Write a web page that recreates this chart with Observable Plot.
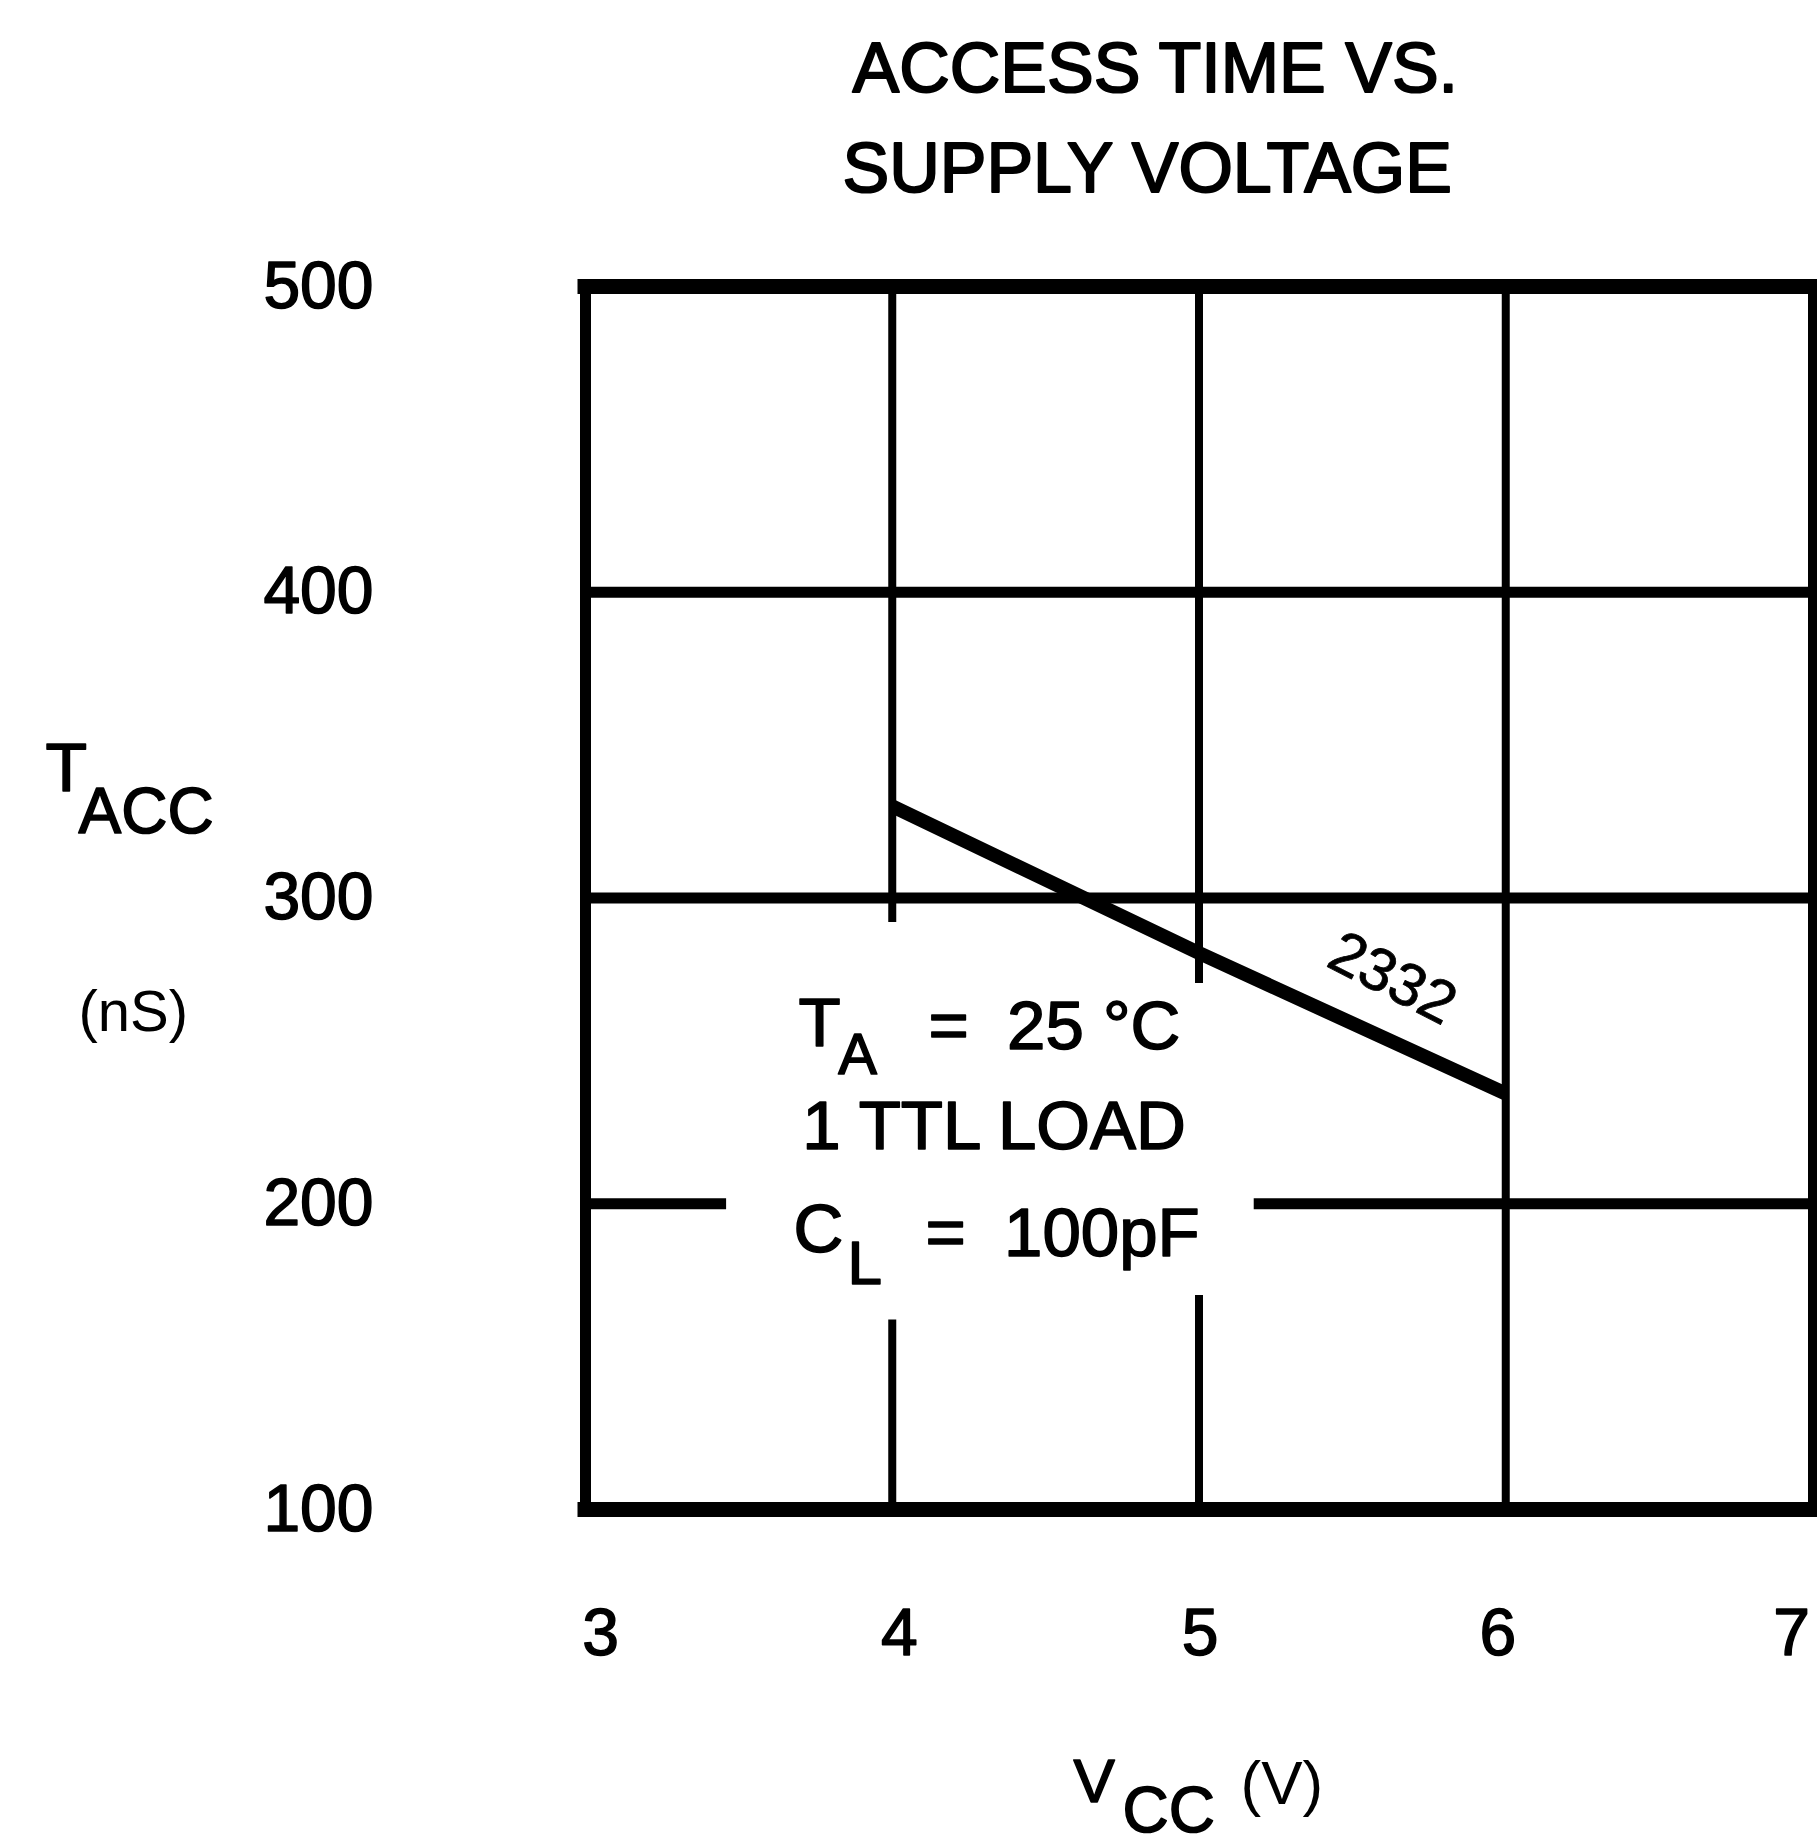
<!DOCTYPE html>
<html>
<head>
<meta charset="utf-8">
<script src="https://cdn.jsdelivr.net/npm/d3@7"></script>
<script src="https://cdn.jsdelivr.net/npm/@observablehq/plot@0.6"></script>
<style>
  html, body { margin: 0; padding: 0; background: #fff; }
</style>
</head>
<body>
<div id="chart"></div>
<script>
// ---- Data ----
const titleLines = ["ACCESS TIME VS.", "SUPPLY VOLTAGE"];
const xTicks = [3, 4, 5, 6, 7];          // VCC (V)
const yTicks = [100, 200, 300, 400, 500]; // TACC (nS)
const vcc  = [4, 5, 6];
const tacc = [330, 282, 236];
const seriesName = "2332";

// grid segments (data units), gaps where the annotation sits
const vGridX  = [4, 4, 5, 5, 6];
const vGridY1 = [292, 100, 272, 100, 100];
const vGridY2 = [500, 162, 500, 170, 500];
const hGridY  = [400, 300, 200, 200];
const hGridX1 = [3, 3, 3, 5.18];
const hGridX2 = [7, 7, 3.46, 7];

// annotation anchors (data units)
const noteText = ["T", "A", "=\u00a0\u00a025\u00a0°C", "1 TTL LOAD", "C", "L", "=\u00a0\u00a0100pF"];
const noteX    = [3.694, 3.824, 4.118, 3.707, 3.678, 3.854, 4.108];
const noteY    = [267.5, 256.0, 266.5, 233.8, 200.4, 188.0, 198.8];
const noteSize = [69, 58, 69, 69, 69, 62, 69];
const labelX = [5.631], labelY = [273.7];

// ---- build tables ----
const series = vcc.map((v, i) => ({vcc: v, tacc: tacc[i]}));
const vGrid = vGridX.map((x, i) => ({x, y1: vGridY1[i], y2: vGridY2[i]}));
const hGrid = hGridY.map((y, i) => ({y, x1: hGridX1[i], x2: hGridX2[i]}));
const notes = noteText.map((t, i) => ({t, x: noteX[i], y: noteY[i], s: noteSize[i]}));

const F = "'Liberation Sans', Arial, Helvetica, sans-serif";
const heavy = {stroke: "#000", strokeWidth: 1.6, paintOrder: "stroke", strokeLinejoin: "round"};

function label(txt, anchor, dx, dy, size, extra) {
  return Plot.text([txt], {
    text: d => d, frameAnchor: anchor, dx, dy,
    textAnchor: "start", lineAnchor: "top",
    fontSize: size, fontFamily: F, fill: "#000", ...(extra || {})
  });
}

const axisText = {textStroke: "#000", textStrokeWidth: 1.5, textStrokeOpacity: 1};
const xNudge = [15, 7, 1, -8, -21];
function xAxisPart(i) {
  return Plot.axisX({ticks: [xTicks[i]], tickSize: 0, tickPadding: 99, label: null, dx: xNudge[i],
    tickFormat: d => String(d), fontSize: 66, fontFamily: F, ...axisText});
}

const chart = Plot.plot({
  width: 1817,
  height: 1845,
  marginTop: 286,
  marginBottom: 336,
  marginLeft: 585,
  marginRight: 5,
  x: {domain: [3, 7]},
  y: {domain: [100, 500]},
  style: {fontFamily: F, fontSize: "64px", color: "#000", background: "#fff", overflow: "visible"},
  marks: [
    Plot.ruleX(vGrid, {x: "x", y1: "y1", y2: "y2", stroke: "#000", strokeWidth: 8}),
    Plot.ruleY(hGrid, {y: "y", x1: "x1", x2: "x2", stroke: "#000", strokeWidth: 11}),
    Plot.ruleX([3], {stroke: "#000", strokeWidth: 11, strokeLinecap: "square"}),
    Plot.ruleX([7], {stroke: "#000", strokeWidth: 9, strokeLinecap: "square"}),
    Plot.ruleY([100, 500], {stroke: "#000", strokeWidth: 15, strokeLinecap: "square"}),
    Plot.line(series, {x: "vcc", y: "tacc", stroke: "#000", strokeWidth: 14, strokeLinecap: "butt"}),
    ...xTicks.map((_, i) => xAxisPart(i)),
    Plot.axisY({ticks: yTicks, tickSize: 0, tickPadding: 212, label: null,
      tickFormat: d => String(d), fontSize: 66, fontFamily: F, ...axisText}),
    Plot.text(notes, {x: "x", y: "y", text: "t", fontSize: d => d.s,
      textAnchor: "start", lineAnchor: "top", fontFamily: F, fill: "#000", ...heavy}),
    Plot.text([seriesName], {x: labelX, y: labelY, text: d => d, rotate: 27,
      textAnchor: "middle", lineAnchor: "middle", fontSize: 60, fontFamily: F, fill: "#000",
      stroke: "#000", strokeWidth: 0.8, paintOrder: "stroke"}),
    // title
    label(titleLines[0], "top-left", 267, -244, 70, {...heavy, strokeWidth: 2}),
    label(titleLines[1], "top-left", 257, -144, 70, {...heavy, strokeWidth: 2}),
    // y axis label
    label("T", "top-left", -540, 456, 68, heavy),
    label("ACC", "top-left", -507, 501, 64, heavy),
    label("(nS)", "top-left", -507, 703, 58),
    // x axis label
    label("V", "bottom-left", 488, 248, 62, heavy),
    label("CC", "bottom-left", 537, 277, 64, heavy),
    label("(V)", "bottom-left", 655, 250, 62)
  ]
});
document.getElementById("chart").appendChild(chart);
</script>
</body>
</html>
